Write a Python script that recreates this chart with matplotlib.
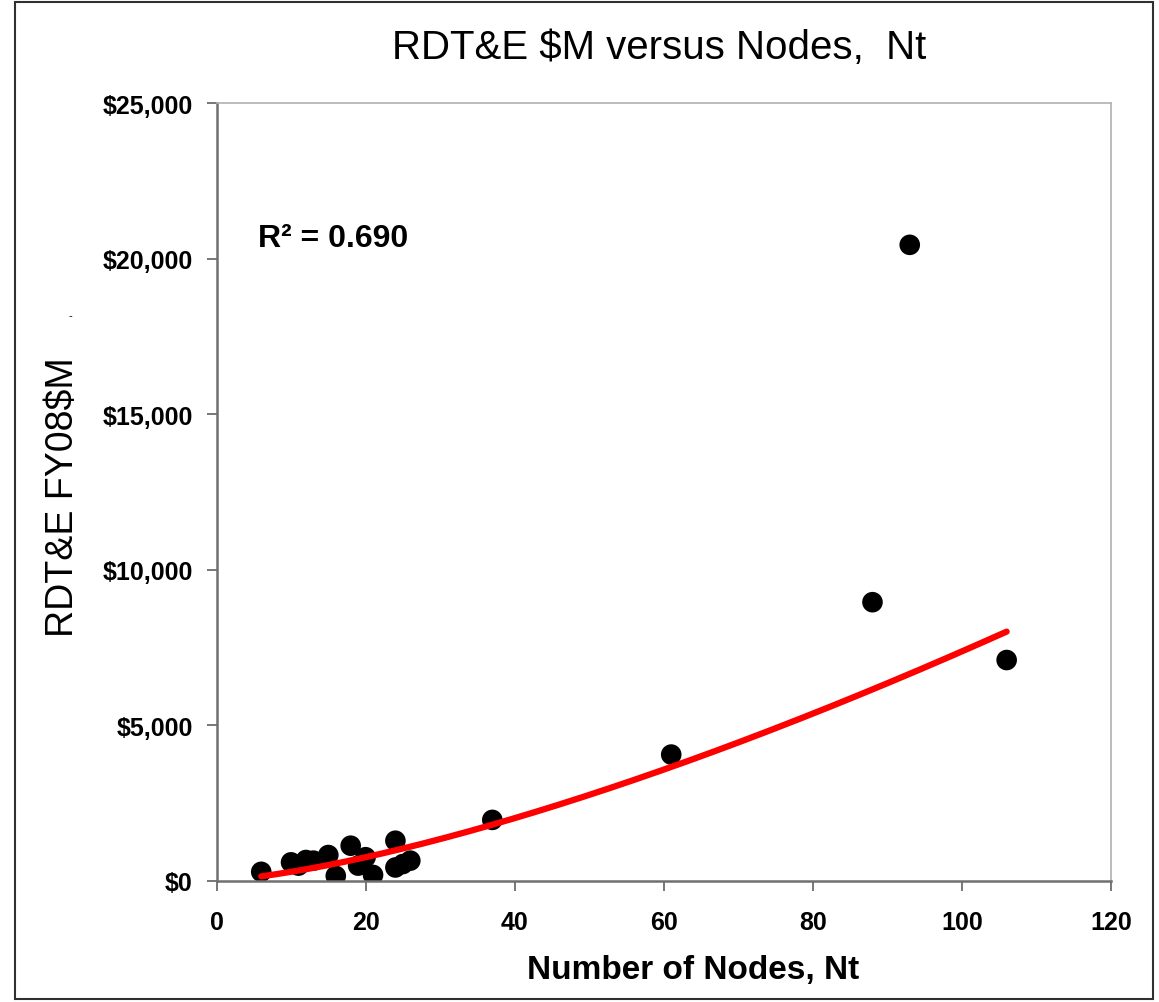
import numpy as np
import matplotlib
matplotlib.use("Agg")
import matplotlib.pyplot as plt
from matplotlib.patches import Rectangle
from matplotlib.ticker import FuncFormatter

# data
nodes = [6, 10, 11, 12, 13, 15, 16, 18, 19, 20, 21, 24, 24, 25, 26,
         37, 61, 88, 93, 106]
rdte = [280, 585, 480, 660, 640, 820, 150, 1120, 480, 750, 180, 1280, 420, 530, 640,
        1950, 4050, 8950, 20440, 7090]

# power trendline y = a * x^b, as drawn on the chart
trend_a = 10.65
trend_b = 1.42
r_squared = "0.690"

plt.rcParams['font.family'] = ['Liberation Sans', 'DejaVu Sans']

fig = plt.figure(figsize=(11.59, 10.03), dpi=100)
ax = fig.add_axes([0.1868, 0.1211, 0.7718, 0.7752])

xs = np.linspace(min(nodes), max(nodes), 200)
ax.plot(xs, trend_a * xs ** trend_b, color="#ff0000", lw=4.5, zorder=3,
        solid_capstyle="round")
ax.scatter(nodes, rdte, s=220, color="black", zorder=2, edgecolors="none")

ax.set_xlim(0, 120)
ax.set_ylim(0, 25000)
ax.set_xticks(range(0, 121, 20))
ax.set_yticks(range(0, 25001, 5000))
ax.yaxis.set_major_formatter(FuncFormatter(lambda v, p: "${:,.0f}".format(v)))

for lab in ax.get_xticklabels() + ax.get_yticklabels():
    lab.set_fontweight("bold")
ax.tick_params(axis="both", labelsize=18, direction="out", length=7,
               width=1.2, color="#606060")
ax.tick_params(axis="x", pad=14)
ax.tick_params(axis="y", pad=10)

ax.spines["left"].set_color("#707070")
ax.spines["bottom"].set_color("#707070")
ax.spines["left"].set_linewidth(1.8)
ax.spines["bottom"].set_linewidth(1.8)
ax.spines["top"].set_color("#b0b0b0")
ax.spines["right"].set_color("#b0b0b0")
ax.spines["top"].set_linewidth(1.2)
ax.spines["right"].set_linewidth(1.2)

ax.set_xlabel("Number of Nodes, Nt", fontsize=24, fontweight="bold", va="center")
ax.xaxis.set_label_coords(0.533, -0.114)
ax.set_ylabel("RDT&E FY08$M", fontsize=27, va="center")
ax.yaxis.set_label_coords(-0.172, 0.495)
fig.text(0.569, 0.952, "RDT&E $M versus Nodes,  Nt", fontsize=29,
         ha="center", va="center")
ax.text(0.046, 0.826, "R² = " + r_squared, transform=ax.transAxes,
        fontsize=23, fontweight="bold", va="center")
fig.text(0.061, 0.685, "-", fontsize=8, ha="center", va="center")

fig.patches.append(Rectangle((0.013, 0.003), 0.982, 0.994, transform=fig.transFigure,
                             fill=False, edgecolor="#303030", lw=1.5))

fig.savefig("out.png", dpi=100)
